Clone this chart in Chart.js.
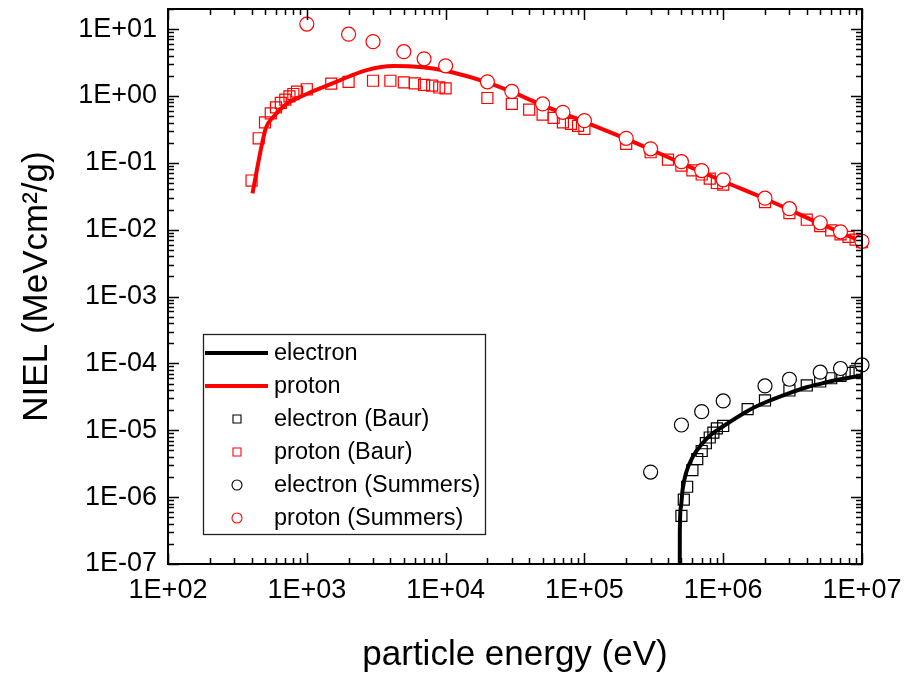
<!DOCTYPE html>
<html><head><meta charset="utf-8">
<script src="https://cdn.jsdelivr.net/npm/chart.js@4.4.0/dist/chart.umd.min.js"></script>
<style>html,body{margin:0;padding:0;background:#fff;}#wrap{width:904px;height:673px;position:relative;}</style>
</head><body><div id="wrap"><canvas id="c" width="904" height="673"></canvas></div>
<script>
// ---- data ----
const xTickLabels = ['1E+02','1E+03','1E+04','1E+05','1E+06','1E+07'];
const yTickLabels = ['1E-07','1E-06','1E-05','1E-04','1E-03','1E-02','1E-01','1E+00','1E+01'];

const protonLineE = [406,507,571,714,1000,1400,2000,2700,4200,5800,8100,11300,20000,30000,50000,1e5,2e5,5e5,1e6,2e6,5e6,1e7];
const protonLineV = [0.035,0.33,0.48,0.76,1.07,1.43,1.94,2.44,2.80,2.77,2.58,2.25,1.6,1.15,0.73,0.41,0.228,0.099,0.053,0.029,0.0123,0.0066];

const electronLineE = [4.85e5,4.87e5,4.95e5,5.1e5,5.4e5,6e5,7e5,8e5,1e6,1.5e6,2e6,3e6,4e6,5e6,7e6,1e7];
const electronLineV = [1e-9,3e-7,7e-7,1.3e-6,2.3e-6,3.9e-6,6.2e-6,8.3e-6,1.15e-5,1.95e-5,2.6e-5,3.6e-5,4.4e-5,4.95e-5,5.8e-5,6.6e-5];

const protonBaurE = [400,450,500,550,600,650,700,750,800,850,1000,1500,2000,3000,4000,5000,6000,7000,8000,9000,10000,2e4,3e4,4e4,5e4,6e4,7e4,8e4,9e4,1e5,2e5,3e5,4e5,5e5,6e5,7e5,8e5,9e5,1e6,2e6,3e6,4e6,5e6,6e6,7e6,8e6,9e6,1e7];
const protonBaurV = [0.0544,0.233,0.404,0.549,0.676,0.787,0.881,0.986,1.07,1.16,1.26,1.53,1.63,1.69,1.69,1.60,1.54,1.47,1.43,1.34,1.30,0.933,0.76,0.625,0.526,0.470,0.404,0.382,0.357,0.322,0.192,0.144,0.112,0.091,0.077,0.067,0.058,0.050,0.0474,0.0258,0.0177,0.0141,0.0113,0.0098,0.0085,0.0078,0.0071,0.0065];

const electronBaurE = [5e5,5.2e5,5.5e5,6e5,6.5e5,7e5,7.5e5,8e5,8.5e5,9e5,1e6,1.5e6,2e6,3e6,4e6,5e6,6e6,7e6,8e6,9e6];
const electronBaurV = [5.25e-7,9.2e-7,1.43e-6,2.54e-6,3.7e-6,4.9e-6,6.4e-6,7.8e-6,9.2e-6,1.07e-5,1.16e-5,2.07e-5,2.79e-5,3.94e-5,4.68e-5,5.37e-5,6.0e-5,6.5e-5,7.2e-5,7.6e-5];

const protonSummersE = [1e3,2e3,3e3,5e3,7e3,1e4,2e4,3e4,5e4,7e4,1e5,2e5,3e5,5e5,7e5,1e6,2e6,3e6,5e6,7e6,1e7];
const protonSummersV = [11.9,8.4,6.5,4.6,3.6,2.83,1.63,1.17,0.76,0.57,0.428,0.233,0.162,0.104,0.0767,0.0557,0.0296,0.0206,0.0127,0.0093,0.0067];

const electronSummersE = [3e5,5e5,7e5,1e6,2e6,3e6,5e6,7e6,1e7];
const electronSummersV = [2.37e-6,1.2e-5,1.9e-5,2.75e-5,4.6e-5,5.8e-5,7.4e-5,8.4e-5,9.5e-5];

const legendLabels = ['electron','proton','electron (Baur)','proton (Baur)','electron (Summers)','proton (Summers)'];

// ---- chart ----
const FONT = "'Liberation Sans','Arial',sans-serif";
const RED = '#ff0000', BLACK = '#000000';
const pts = (xs, ys) => xs.map((x, i) => ({x, y: ys[i]}));
function decadeLabel(v, labels, minExp) {
  const l = Math.log10(v), r = Math.round(l);
  if (Math.abs(l - r) > 1e-6) return '';
  const idx = r - minExp;
  return labels[idx] !== undefined ? labels[idx] : '';
}

const lineDS = (label, xs, ys, color) => ({
  label, data: pts(xs, ys), showLine: true, borderColor: color, borderWidth: 4,
  pointRadius: 0, pointHoverRadius: 0, cubicInterpolationMode: 'monotone', order: 3, clip: 0, fill: false
});
const markDS = (label, xs, ys, color, style, r, fillc, order) => ({
  label, data: pts(xs, ys), showLine: false, borderColor: color, backgroundColor: fillc,
  pointStyle: style, pointRadius: r, pointHoverRadius: r, pointBorderWidth: 1.2, order, clip: false
});

const datasets = [
  lineDS(legendLabels[0], electronLineE, electronLineV, BLACK),
  lineDS(legendLabels[1], protonLineE, protonLineV, RED),
  markDS(legendLabels[2], electronBaurE, electronBaurV, BLACK, 'rect', 7.8, 'rgba(0,0,0,0)', 2),
  markDS(legendLabels[3], protonBaurE, protonBaurV, RED, 'rect', 7.8, 'rgba(0,0,0,0)', 2),
  markDS(legendLabels[4], electronSummersE, electronSummersV, BLACK, 'circle', 7, '#ffffff', 1),
  markDS(legendLabels[5], protonSummersE, protonSummersV, RED, 'circle', 7, '#ffffff', 1)
];

const frame = {
  id: 'frame',
  afterDraw(chart) {
    const {ctx, chartArea: a, scales: {x, y}} = chart;
    ctx.save();
    ctx.strokeStyle = '#000';
    ctx.lineWidth = 1.5;
    ctx.beginPath();
    for (let e = 2; e <= 7; e++) {
      for (let m = 1; m <= 9; m++) {
        const v = m * Math.pow(10, e);
        if (v > 1e7 * 1.0001) break;
        const px = Math.round(x.getPixelForValue(v)) + 0.5;
        const len = m === 1 ? 11 : 6;
        ctx.moveTo(px, a.bottom); ctx.lineTo(px, a.bottom - len);
        ctx.moveTo(px, a.top); ctx.lineTo(px, a.top + len);
      }
    }
    for (let e = -7; e <= 1; e++) {
      for (let m = 1; m <= 9; m++) {
        const v = m * Math.pow(10, e);
        if (v > y.max) break;
        const py = Math.round(y.getPixelForValue(v)) + 0.5;
        const len = m === 1 ? 11 : 6;
        ctx.moveTo(a.left, py); ctx.lineTo(a.left + len, py);
        ctx.moveTo(a.right, py); ctx.lineTo(a.right - len, py);
      }
    }
    ctx.stroke();
    ctx.lineWidth = 2;
    ctx.strokeRect(a.left, a.top, a.right - a.left, a.bottom - a.top);

    // legend
    const bx = 203, by = 334, bw = 282, bh = 200;
    ctx.fillStyle = '#fff';
    ctx.fillRect(bx, by, bw, bh);
    ctx.lineWidth = 1.3;
    ctx.strokeStyle = '#222';
    ctx.strokeRect(bx + 0.5, by + 0.5, bw, bh);
    const rowY0 = 353, rowH = 33;
    ctx.font = "23.5px " + FONT;
    ctx.textBaseline = 'middle';
    ctx.textAlign = 'left';
    chart.data.datasets.forEach((ds, i) => {
      const cy = rowY0 + i * rowH;
      if (ds.showLine) {
        ctx.strokeStyle = ds.borderColor; ctx.lineWidth = 4;
        ctx.beginPath(); ctx.moveTo(205, cy); ctx.lineTo(268, cy); ctx.stroke();
      } else {
        ctx.strokeStyle = ds.borderColor; ctx.lineWidth = 1.1;
        ctx.beginPath();
        if (ds.pointStyle === 'rect') ctx.rect(233, cy - 4, 8, 8);
        else ctx.arc(237, cy, 5, 0, Math.PI * 2);
        ctx.stroke();
      }
      ctx.fillStyle = '#000';
      ctx.fillText(ds.label, 274, cy + 1);
    });
    ctx.restore();
  }
};

new Chart(document.getElementById('c'), {
  type: 'scatter',
  data: { datasets },
  plugins: [frame],
  options: {
    responsive: false, animation: false,
    layout: { padding: { left: 0, right: 42, top: 6, bottom: 0 } },
    plugins: { legend: { display: false }, tooltip: { enabled: false } },
    scales: {
      x: {
        type: 'logarithmic', min: 100, max: 1e7,
        grid: { display: false, drawTicks: false }, border: { display: false },
        ticks: { autoSkip: false, maxRotation: 0, padding: 10, color: '#000',
          font: { family: FONT, size: 27 },
          callback: (v) => decadeLabel(v, xTickLabels, 2) },
        title: { display: true, text: 'particle energy (eV)', color: '#000',
          font: { family: FONT, size: 35 }, padding: { top: 0, bottom: -3 } },
        afterFit: (s) => { s.height = 109; s.paddingLeft = 0; s.paddingRight = 0; }
      },
      y: {
        type: 'logarithmic', min: 1e-7, max: 20,
        grid: { display: false, drawTicks: false }, border: { display: false },
        ticks: { autoSkip: false, padding: 11, color: '#000',
          font: { family: FONT, size: 27 },
          callback: (v) => decadeLabel(v, yTickLabels, -7) },
        title: { display: true, text: 'NIEL (MeVcm²/g)', color: '#000',
          font: { family: FONT, size: 35 }, padding: { top: 16, bottom: 0 } },
        afterFit: (s) => { s.width = 168; s.paddingTop = 0; s.paddingBottom = 0; }
      }
    }
  }
});
</script></body></html>
